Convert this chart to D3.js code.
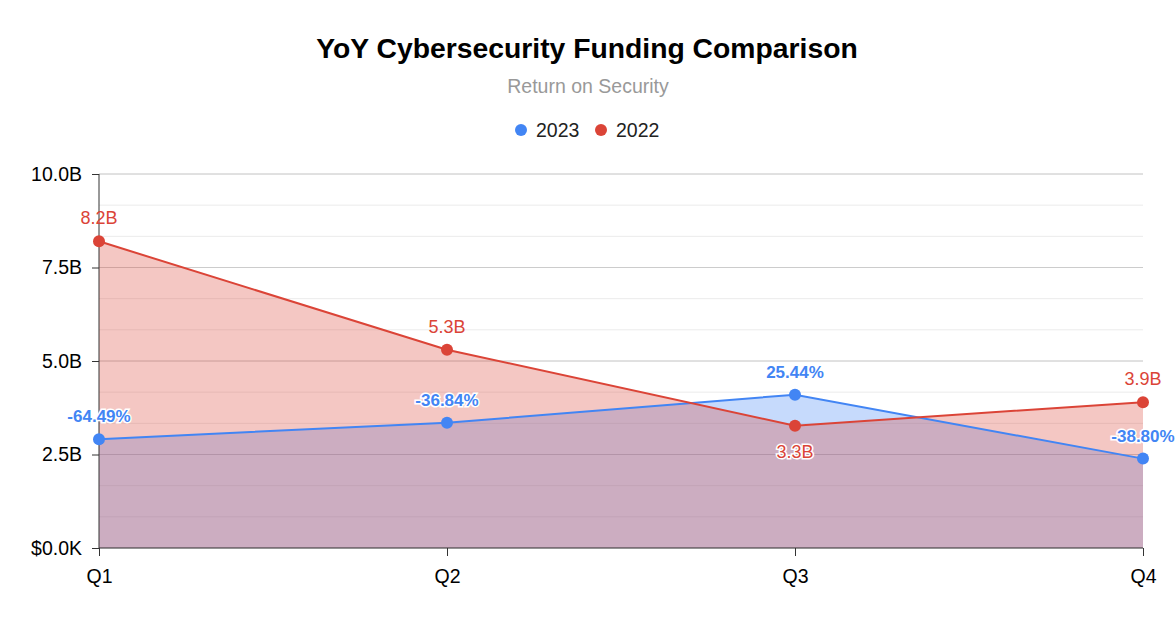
<!DOCTYPE html>
<html>
<head>
<meta charset="utf-8">
<script src="https://cdn.jsdelivr.net/npm/d3@7"></script>
<style>
  body { margin: 0; background: #fff; }
  svg { font-family: Arial, "Liberation Sans", sans-serif; }
</style>
</head>
<body>
<svg id="chart" width="1175" height="621"></svg>
<script>
// data
const quarters = ['Q1', 'Q2', 'Q3', 'Q4'];
const funding2023 = [2.91, 3.35, 4.10, 2.39];
const funding2022 = [8.2, 5.3, 3.27, 3.9];
const labels2023 = ['-64.49%', '-36.84%', '25.44%', '-38.80%'];
const labels2022 = ['8.2B', '5.3B', '3.3B', '3.9B'];
const yTicks = [0, 2.5, 5, 7.5, 10];
const yTickLabels = ['$0.0K', '2.5B', '5.0B', '7.5B', '10.0B'];

const blue = '#4285f4';
const red = '#db4437';
const font = 'Arial, "Liberation Sans", sans-serif';

const svg = d3.select('#chart');
const margin = { top: 174, right: 32, bottom: 73, left: 99 };
const width = 1175 - margin.left - margin.right;
const height = 621 - margin.top - margin.bottom;

// title, subtitle
svg.append('text')
  .attr('x', 587).attr('y', 58)
  .attr('text-anchor', 'middle')
  .attr('font-size', 28.3).attr('font-weight', 'bold')
  .attr('fill', '#000')
  .text('YoY Cybersecurity Funding Comparison');

svg.append('text')
  .attr('x', 588).attr('y', 93)
  .attr('text-anchor', 'middle')
  .attr('font-size', 19.5)
  .attr('fill', '#999')
  .text('Return on Security');

// legend
const legend = [{ name: '2023', color: blue }, { name: '2022', color: red }];
const lg = svg.append('g').attr('transform', 'translate(521,130)');
legend.forEach((d, i) => {
  const lgi = lg.append('g').attr('transform', `translate(${i * 80},0)`);
  lgi.append('circle').attr('r', 6).attr('cx', 0).attr('cy', 0).attr('fill', d.color);
  lgi.append('text').attr('x', 15).attr('y', 7).attr('font-size', 19.5).attr('fill', '#222').text(d.name);
});

const g = svg.append('g').attr('transform', `translate(${margin.left},${margin.top})`);

const x = d3.scalePoint().domain(quarters).range([0, width]);
const y = d3.scaleLinear().domain([0, 10]).range([height, 0]);

// minor gridlines
const minor = d3.range(0, 10.01, 2.5 / 3);
g.append('g').selectAll('line')
  .data(minor)
  .enter().append('line')
  .attr('x1', 0).attr('x2', width)
  .attr('y1', d => y(d)).attr('y2', d => y(d))
  .attr('stroke', '#ebebeb');

// major gridlines
g.append('g').selectAll('line')
  .data(yTicks.slice(1))
  .enter().append('line')
  .attr('x1', 0).attr('x2', width)
  .attr('y1', d => y(d)).attr('y2', d => y(d))
  .attr('stroke', '#cccccc');

// areas: blue first, red over it
const area = d3.area()
  .x((d, i) => x(quarters[i]))
  .y0(y(0))
  .y1(d => y(d));
const line = d3.line()
  .x((d, i) => x(quarters[i]))
  .y(d => y(d));

g.append('path').datum(funding2023)
  .attr('d', area).attr('fill', blue).attr('fill-opacity', 0.3);
g.append('path').datum(funding2022)
  .attr('d', area).attr('fill', red).attr('fill-opacity', 0.3);

g.append('path').datum(funding2023)
  .attr('d', line).attr('fill', 'none').attr('stroke', blue).attr('stroke-width', 2);
g.append('path').datum(funding2022)
  .attr('d', line).attr('fill', 'none').attr('stroke', red).attr('stroke-width', 2);

// axes
const yAxis = d3.axisLeft(y).tickValues(yTicks)
  .tickFormat((d, i) => yTickLabels[i]).tickSize(7).tickPadding(10);
const ya = g.append('g').call(yAxis);
ya.select('.domain').attr('stroke', '#333').attr('d', `M0,0V${height}`);
ya.selectAll('.tick line').attr('stroke', '#333');
ya.selectAll('.tick text').attr('font-size', 19.5).attr('font-family', font).attr('fill', '#000');

const xAxis = d3.axisBottom(x).tickSize(8).tickPadding(13);
const xa = g.append('g').attr('transform', `translate(0,${height})`).call(xAxis);
xa.select('.domain').attr('stroke', '#333').attr('d', `M0,0H${width}`);
xa.selectAll('.tick line').attr('stroke', '#333');
xa.selectAll('.tick text').attr('font-size', 19.5).attr('font-family', font).attr('fill', '#000');

// points
g.append('g').selectAll('circle')
  .data(funding2023).enter().append('circle')
  .attr('cx', (d, i) => x(quarters[i])).attr('cy', d => y(d))
  .attr('r', 6).attr('fill', blue);
g.append('g').selectAll('circle')
  .data(funding2022).enter().append('circle')
  .attr('cx', (d, i) => x(quarters[i])).attr('cy', d => y(d))
  .attr('r', 6).attr('fill', red);

// data labels
g.append('g').selectAll('text')
  .data(funding2022).enter().append('text')
  .attr('x', (d, i) => x(quarters[i]))
  .attr('y', (d, i) => i === 2 ? y(d) + 32 : y(d) - 17)
  .attr('text-anchor', 'middle')
  .attr('font-size', 18)
  .attr('fill', red)
  .attr('stroke', '#fff').attr('stroke-width', (d, i) => i === 2 ? 3 : 0)
  .attr('paint-order', 'stroke')
  .text((d, i) => labels2022[i]);

g.append('g').selectAll('text')
  .data(funding2023).enter().append('text')
  .attr('x', (d, i) => x(quarters[i]))
  .attr('y', (d, i) => y(d) - 17)
  .attr('text-anchor', 'middle')
  .attr('font-size', 17).attr('font-weight', 'bold')
  .attr('fill', blue)
  .attr('stroke', '#fff').attr('stroke-width', 3)
  .attr('paint-order', 'stroke')
  .text((d, i) => labels2023[i]);
</script>
</body>
</html>
